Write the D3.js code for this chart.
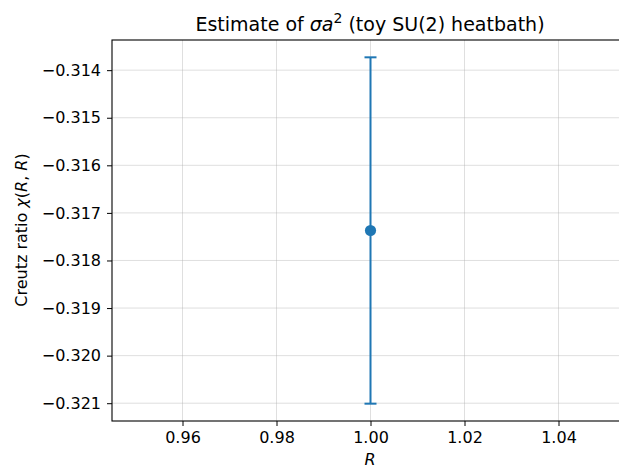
<!DOCTYPE html>
<html><head><meta charset="utf-8">
<script src="https://cdn.jsdelivr.net/npm/d3@7"></script>
<style>body{margin:0;background:#fff}svg{display:block;font-family:"DejaVu Sans",sans-serif}</style>
</head><body><svg id="c" width="619" height="468"></svg>
<script>
const rValues = [1.0];
const chiValues = [-0.31737];
const chiErrors = [0.00364];
const xTicks = [0.96, 0.98, 1.00, 1.02, 1.04];
const yTicks = [-0.314, -0.315, -0.316, -0.317, -0.318, -0.319, -0.320, -0.321];

const svg = d3.select("#c");
const L = 112, T = 40, B = 421, R = 629;
const x = d3.scaleLinear().domain([0.945, 1.055]).range([L, R]);
const ylo = chiValues[0] - chiErrors[0], yhi = chiValues[0] + chiErrors[0];
const pad = (yhi - ylo) * 0.05;
const y = d3.scaleLinear().domain([ylo - pad, yhi + pad]).range([B, T]);

const g = svg.append("g");
g.selectAll(".gx").data(xTicks).join("line")
  .attr("x1", d => x(d)).attr("x2", d => x(d)).attr("y1", T).attr("y2", B)
  .attr("stroke", "#b0b0b0").attr("stroke-opacity", 0.4).attr("stroke-width", 1);
g.selectAll(".gy").data(yTicks).join("line")
  .attr("y1", d => y(d)).attr("y2", d => y(d)).attr("x1", L).attr("x2", R)
  .attr("stroke", "#b0b0b0").attr("stroke-opacity", 0.4).attr("stroke-width", 1);

const fmtMinus = s => s.replace("-", "\u2212");
const xAxis = d3.axisBottom(x).tickValues(xTicks).tickFormat(d3.format(".2f")).tickSize(5).tickPadding(6);
const yAxis = d3.axisLeft(y).tickValues(yTicks).tickFormat(d => fmtMinus(d3.format(".3f")(d))).tickSize(5).tickPadding(6);
const gx = svg.append("g").attr("transform", `translate(0,${B})`).call(xAxis);
const gy = svg.append("g").attr("transform", `translate(${L},0)`).call(yAxis);
[gx, gy].forEach(a => {
  a.select(".domain").remove();
  a.selectAll("text").attr("font-size", 16).attr("fill", "#000").attr("font-family", "DejaVu Sans");
  a.selectAll("line").attr("stroke", "#000").attr("stroke-width", 1);
});
svg.append("rect").attr("x", L).attr("y", T).attr("width", R - L).attr("height", B - T)
  .attr("fill", "none").attr("stroke", "#000").attr("stroke-width", 1.1);

const col = "#1f77b4";
const eb = svg.append("g");
rValues.forEach((r, i) => {
  const cx = x(r);
  eb.append("line").attr("x1", cx).attr("x2", cx).attr("y1", y(chiValues[i] + chiErrors[i])).attr("y2", y(chiValues[i] - chiErrors[i]))
    .attr("stroke", col).attr("stroke-width", 2);
  [chiValues[i] + chiErrors[i], chiValues[i] - chiErrors[i]].forEach(v => {
    eb.append("line").attr("x1", cx - 6).attr("x2", cx + 6).attr("y1", y(v)).attr("y2", y(v))
      .attr("stroke", col).attr("stroke-width", 2);
  });
  eb.append("circle").attr("cx", cx).attr("cy", y(chiValues[i])).attr("r", 5.6).attr("fill", col);
});

const t = svg.append("text").attr("x", 370).attr("y", 31).attr("text-anchor", "middle")
  .attr("font-size", 19).attr("fill", "#000");
t.append("tspan").text("Estimate of ");
t.append("tspan").attr("font-style", "italic").text("σa");
t.append("tspan").attr("font-size", 14).attr("dy", -8).text("2");
t.append("tspan").attr("dy", 8).text(" (toy SU(2) heatbath)");

svg.append("text").attr("x", 370).attr("y", 465).attr("text-anchor", "middle").attr("font-size", 16)
  .attr("font-style", "italic").text("R");
const yl = svg.append("text").attr("transform", "translate(27,230) rotate(-90)").attr("text-anchor", "middle").attr("font-size", 16);
yl.append("tspan").text("Creutz ratio ");
yl.append("tspan").attr("font-style", "italic").text("χ");
yl.append("tspan").text("(");
yl.append("tspan").attr("font-style", "italic").text("R");
yl.append("tspan").text(", ");
yl.append("tspan").attr("font-style", "italic").text("R");
yl.append("tspan").text(")");
</script></body></html>
